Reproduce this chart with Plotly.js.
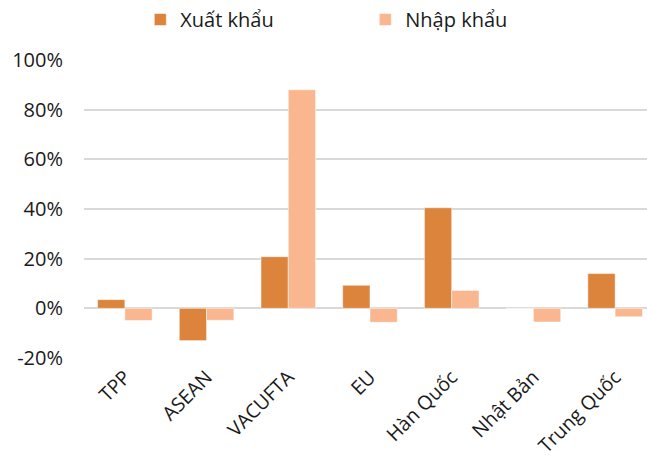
<!DOCTYPE html>
<html>
<head>
<meta charset="utf-8">
<script src="https://cdn.plot.ly/plotly-3.0.1.min.js"></script>
<style>html,body{margin:0;padding:0;background:#fff;}#chart{width:647px;height:461px;}</style>
</head>
<body>
<div id="chart"></div>
<script>
const categories = ["TPP", "ASEAN", "VACUFTA", "EU", "Hàn Quốc", "Nhật Bản", "Trung Quốc"];
const exportValues = [0.035, -0.13, 0.208, 0.093, 0.405, 0, 0.14];
const importValues = [-0.049, -0.048, 0.88, -0.056, 0.072, -0.055, -0.034];
const yTicks = [-0.2, 0, 0.2, 0.4, 0.6, 0.8, 1.0];
const yTickLabels = ["-20%", "0%", "20%", "40%", "60%", "80%", "100%"];
const seriesNames = ["Xuất khẩu", "Nhập khẩu"];

const font = "Open Sans, Noto Sans, sans-serif";
const traces = [
  {type: "bar", name: seriesNames[0], x: categories, y: exportValues,
   marker: {color: "#DD843C", line: {color: "#ffffff", width: 0.5}}, hoverinfo: "none"},
  {type: "bar", name: seriesNames[1], x: categories, y: importValues,
   marker: {color: "#F9B68F", line: {color: "#ffffff", width: 0.5}}, hoverinfo: "none"}
];
const layout = {
  width: 647, height: 461,
  margin: {l: 84, r: 0, t: 60, b: 103},
  paper_bgcolor: "#ffffff", plot_bgcolor: "#ffffff",
  barmode: "group", bargap: 0.332, bargroupgap: 0,
  font: {family: font, size: 19, color: "#1a1a1a"},
  showlegend: true,
  legend: {orientation: "h", x: 0.1, xanchor: "left", y: 1.0, yanchor: "top",
           yref: "container", entrywidth: 180, font: {family: font, size: 20, color: "#1a1a1a"},
           itemclick: false, traceorder: "normal"},
  xaxis: {type: "category", range: [-0.5, 6.39], tickangle: -45, showgrid: false,
          showline: false, ticks: "", zeroline: false, ticklabelstandoff: 3,
          tickfont: {family: font, size: 19.5}},
  yaxis: {range: [-0.2, 1.0], tickvals: yTicks, ticktext: yTickLabels, showgrid: true,
          gridcolor: "#d9d9d9", gridwidth: 2, zeroline: true, zerolinecolor: "#d9d9d9",
          zerolinewidth: 2, ticks: "", showline: false, ticklabelstandoff: 20,
          tickfont: {family: font, size: 20}}
};
Plotly.newPlot("chart", traces, layout, {staticPlot: true});
</script>
</body>
</html>
